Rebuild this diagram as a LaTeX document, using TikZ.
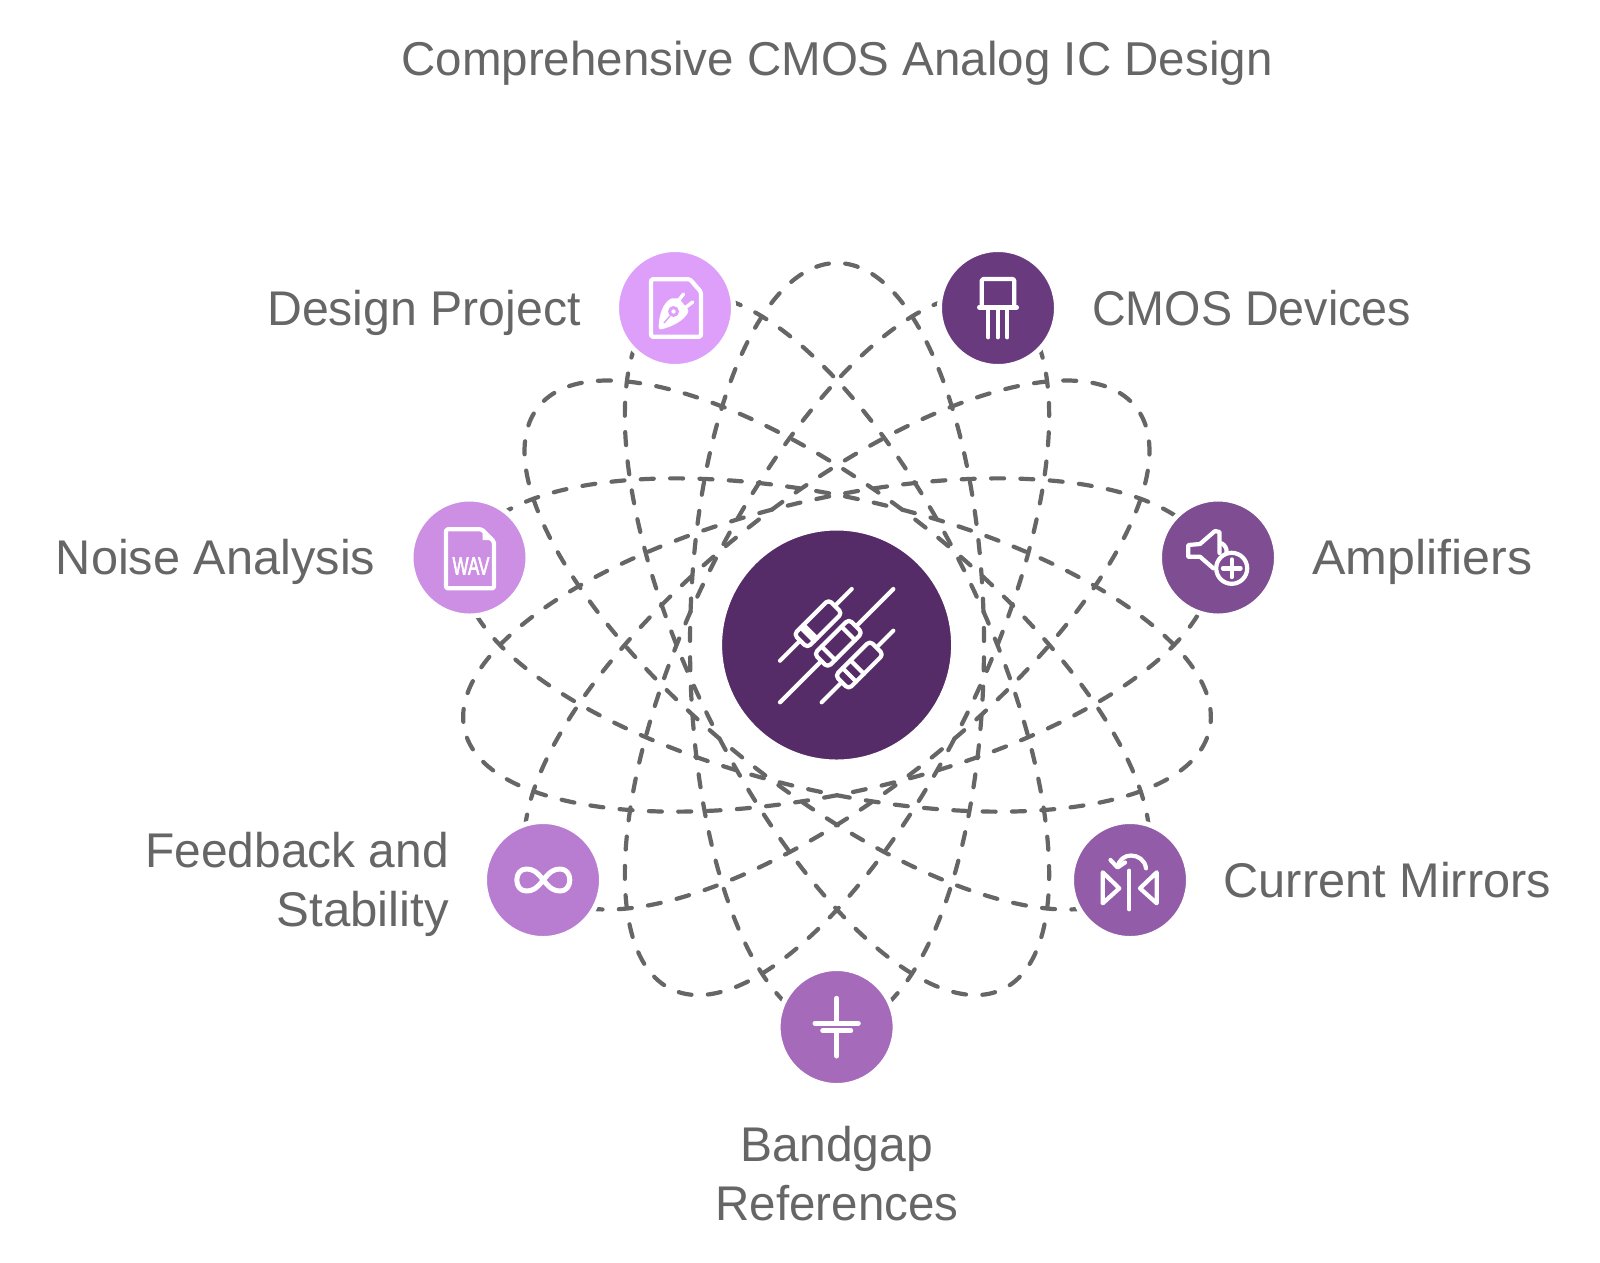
\documentclass[tikz,border=0pt]{standalone}
\usepackage{fontspec}
\setmainfont{Liberation Sans}
\newfontfamily\wavfont[FakeBold=3]{Liberation Sans}
\definecolor{txt}{HTML}{666666}
\definecolor{cdesign}{HTML}{DE9FFA}
\definecolor{cnoise}{HTML}{CC8FE3}
\definecolor{cfeed}{HTML}{B87CD1}
\definecolor{cband}{HTML}{A56BBA}
\definecolor{cmirror}{HTML}{925CA8}
\definecolor{camp}{HTML}{7E4D92}
\definecolor{ccmos}{HTML}{693B7E}
\definecolor{ccenter}{HTML}{562C68}
\tikzset{
  orbit/.style={draw=txt,line width=4.2pt,line cap=round,dash pattern=on 13pt off 16.36pt},
  bub/.style={circle,minimum size=117pt,inner sep=0pt,outer sep=0pt,draw=white,line width=5pt},
  hub/.style={circle,minimum size=234pt,inner sep=0pt,outer sep=0pt,draw=white,line width=5pt,fill=ccenter},
  lab/.style={text=txt,font=\fontsize{48.7}{59}\selectfont,anchor=base,inner sep=0pt},
  icon/.style={draw=white,line width=4.2pt,line cap=round,line join=round},
}
\begin{document}
\begin{tikzpicture}[x=1pt,y=-1pt]
\useasboundingbox (0,0) rectangle (1600,1262);
\fill[white] (0,0) rectangle (1600,1262);
\foreach \k in {0,...,6}{
  \draw[orbit,shift={(837,645)},rotate=\k*360/7] (0,382) arc[start angle=90,end angle=450,x radius=147,y radius=382];
}
\node[hub] (hub) at (836.6,645) {};
\node[bub,fill=cdesign] (design) at (675,308) {};
\node[bub,fill=ccmos] (cmos) at (998,308) {};
\node[bub,fill=camp] (amp) at (1218,557.5) {};
\node[bub,fill=cmirror] (mirror) at (1130,880) {};
\node[bub,fill=cband] (band) at (836.6,1027) {};
\node[bub,fill=cfeed] (feed) at (543,880) {};
\node[bub,fill=cnoise] (noise) at (469.5,557.5) {};
% labels
\node[lab,font=\fontsize{47.5}{59}\selectfont] (title) at (837,75) {Comprehensive CMOS Analog IC Design};
\node[lab,anchor=base east] (ldesign) at (581,325) {\scalebox{.99}[1]{Design Project}};
\node[lab,anchor=base west] (lcmos) at (1092,325) {\scalebox{.958}[1]{CMOS Devices}};
\node[lab,anchor=base west] (lamp) at (1312,574) {\scalebox{1.03}[1]{Amplifiers}};
\node[lab,anchor=base west] (lmirror) at (1223.5,897) {Current Mirrors};
\node[lab,anchor=base east] (lnoise) at (375.5,574) {Noise Analysis};
\node[lab,anchor=base east] (lfeed1) at (449,867) {\scalebox{.983}[1]{Feedback and}};
\node[lab,anchor=base east] (lfeed2) at (449,926) {\scalebox{1.01}[1]{Stability}};
\node[lab] (lband1) at (837,1161) {\scalebox{.985}[1]{Bandgap}};
\node[lab] (lband2) at (837,1220) {\scalebox{.975}[1]{References}};
% resistors
\foreach \cx/\cy/\ax/\ay/\bx/\by/\sa/\sb in {
  818/623.7/780/660.7/851.7/589/-15/-11,
  838.3/643.3/780/702.3/893.3/589/-14/14,
  859.3/665/821.7/702.3/893.3/630.7/-14/-3}{
  \draw[icon] (\ax,\ay) -- (\bx,\by);
  \fill[ccenter,shift={(\cx,\cy)},rotate=45,rounded corners=4pt] (-24.5,-9.5) rectangle (24.5,9.5);
  \draw[icon,shift={(\cx,\cy)},rotate=45,rounded corners=4pt] (-24.5,-9.5) rectangle (24.5,9.5);
  \draw[icon,shift={(\cx,\cy)},rotate=45] (\sa,-9.5) -- (\sa,9.5) (\sb,-9.5) -- (\sb,9.5);
}
% design doc
\draw[icon,rounded corners=1.5pt] (651,279.3) -- (690,279.3) -- (701,292) -- (701,336.7) -- (651,336.7) -- cycle;
\draw[icon,fill=white] (660.7,327.3) .. controls (661,315) and (665,304) .. (672,300.5) -- (678,300.5) -- (686.5,311) .. controls (682,320) and (670,325) .. (660.7,327.3) -- cycle;
\fill[cdesign] (673.5,311.5) circle (5.5);
\fill[white] (673.5,311.5) circle (2.2);
\draw[cdesign,line width=1.4pt] (664,323) -- (670,316);
\draw[icon,line width=3.4pt] (678.5,300.5) -- (683.5,294) (685.5,307.5) -- (692.7,302);
% cmos
\draw[icon,rounded corners=1.5pt] (981.7,307.3) -- (981.7,279) -- (1014.3,279) -- (1014.3,307.3);
\draw[icon,line width=4.6pt] (979.3,307.3) -- (1016.7,307.3);
\draw[icon] (988.3,307.3) -- (988.3,337.3) (997.7,307.3) -- (997.7,337.3) (1007.3,307.3) -- (1007.3,337.3);
% amplifier
\draw[icon] (1213.3,568.3) -- (1200,556.7) -- (1188.3,556.7) -- (1188.3,545) -- (1200,544) -- (1215,531) -- (1219.5,532) -- (1219.5,553);
\draw[icon] (1221.7,543.3) .. controls (1225,545) and (1227,549) .. (1226.5,552);
\draw[icon,fill=camp] (1231.7,568.3) circle (15.5);
\draw[icon,line width=4.4pt] (1231.7,559.5) -- (1231.7,577) (1223,568.3) -- (1240.5,568.3);
% mirror
\draw[icon] (1129.3,870.7) -- (1129.3,909.3);
\draw[icon] (1102.7,872.3) -- (1119.3,888.3) -- (1102.7,903.3) -- cycle;
\draw[icon] (1156.7,872.3) -- (1140,888.3) -- (1156.7,903.3) -- cycle;
\draw[icon] (1146,868.3) .. controls (1145,860) and (1138,855.5) .. (1131,855.5) .. controls (1125,855.5) and (1120,859) .. (1117.5,866);
\draw[icon] (1110.5,860) -- (1117.5,867.5) -- (1125,862.5);
% capacitor
\draw[icon,line width=5pt] (836.7,998.3) -- (836.7,1023.3) (815,1023.3) -- (858.3,1023.3) (822.7,1030.7) -- (850.7,1030.7) (836.7,1030.7) -- (836.7,1056);
% infinity
\draw[icon,line width=5pt,shift={(543.3,880)}] (0,0) .. controls (7,-9) and (11,-11) .. (17,-11) .. controls (23,-11) and (26.5,-6) .. (26.5,0) .. controls (26.5,6) and (23,11) .. (17,11) .. controls (11,11) and (7,9) .. (0,0) .. controls (-7,-9) and (-11,-11) .. (-17,-11) .. controls (-23,-11) and (-26.5,-6) .. (-26.5,0) .. controls (-26.5,6) and (-23,11) .. (-17,11) .. controls (-11,11) and (-7,9) .. (0,0) -- cycle;
% wav
\draw[icon,rounded corners=1.5pt] (446,529.3) -- (481.7,529.3) -- (494,541.7) -- (494,588.3) -- (446,588.3) -- cycle;
\fill[white,draw=white,line width=1pt,line join=round] (483,532) -- (483,539.5) -- (490.5,539.5) -- cycle;
\node[text=white,inner sep=0pt,font=\fontsize{25}{25}\wavfont] (wav) at (471,566) {\scalebox{.68}[1]{WAV}};
\end{tikzpicture}
\end{document}
